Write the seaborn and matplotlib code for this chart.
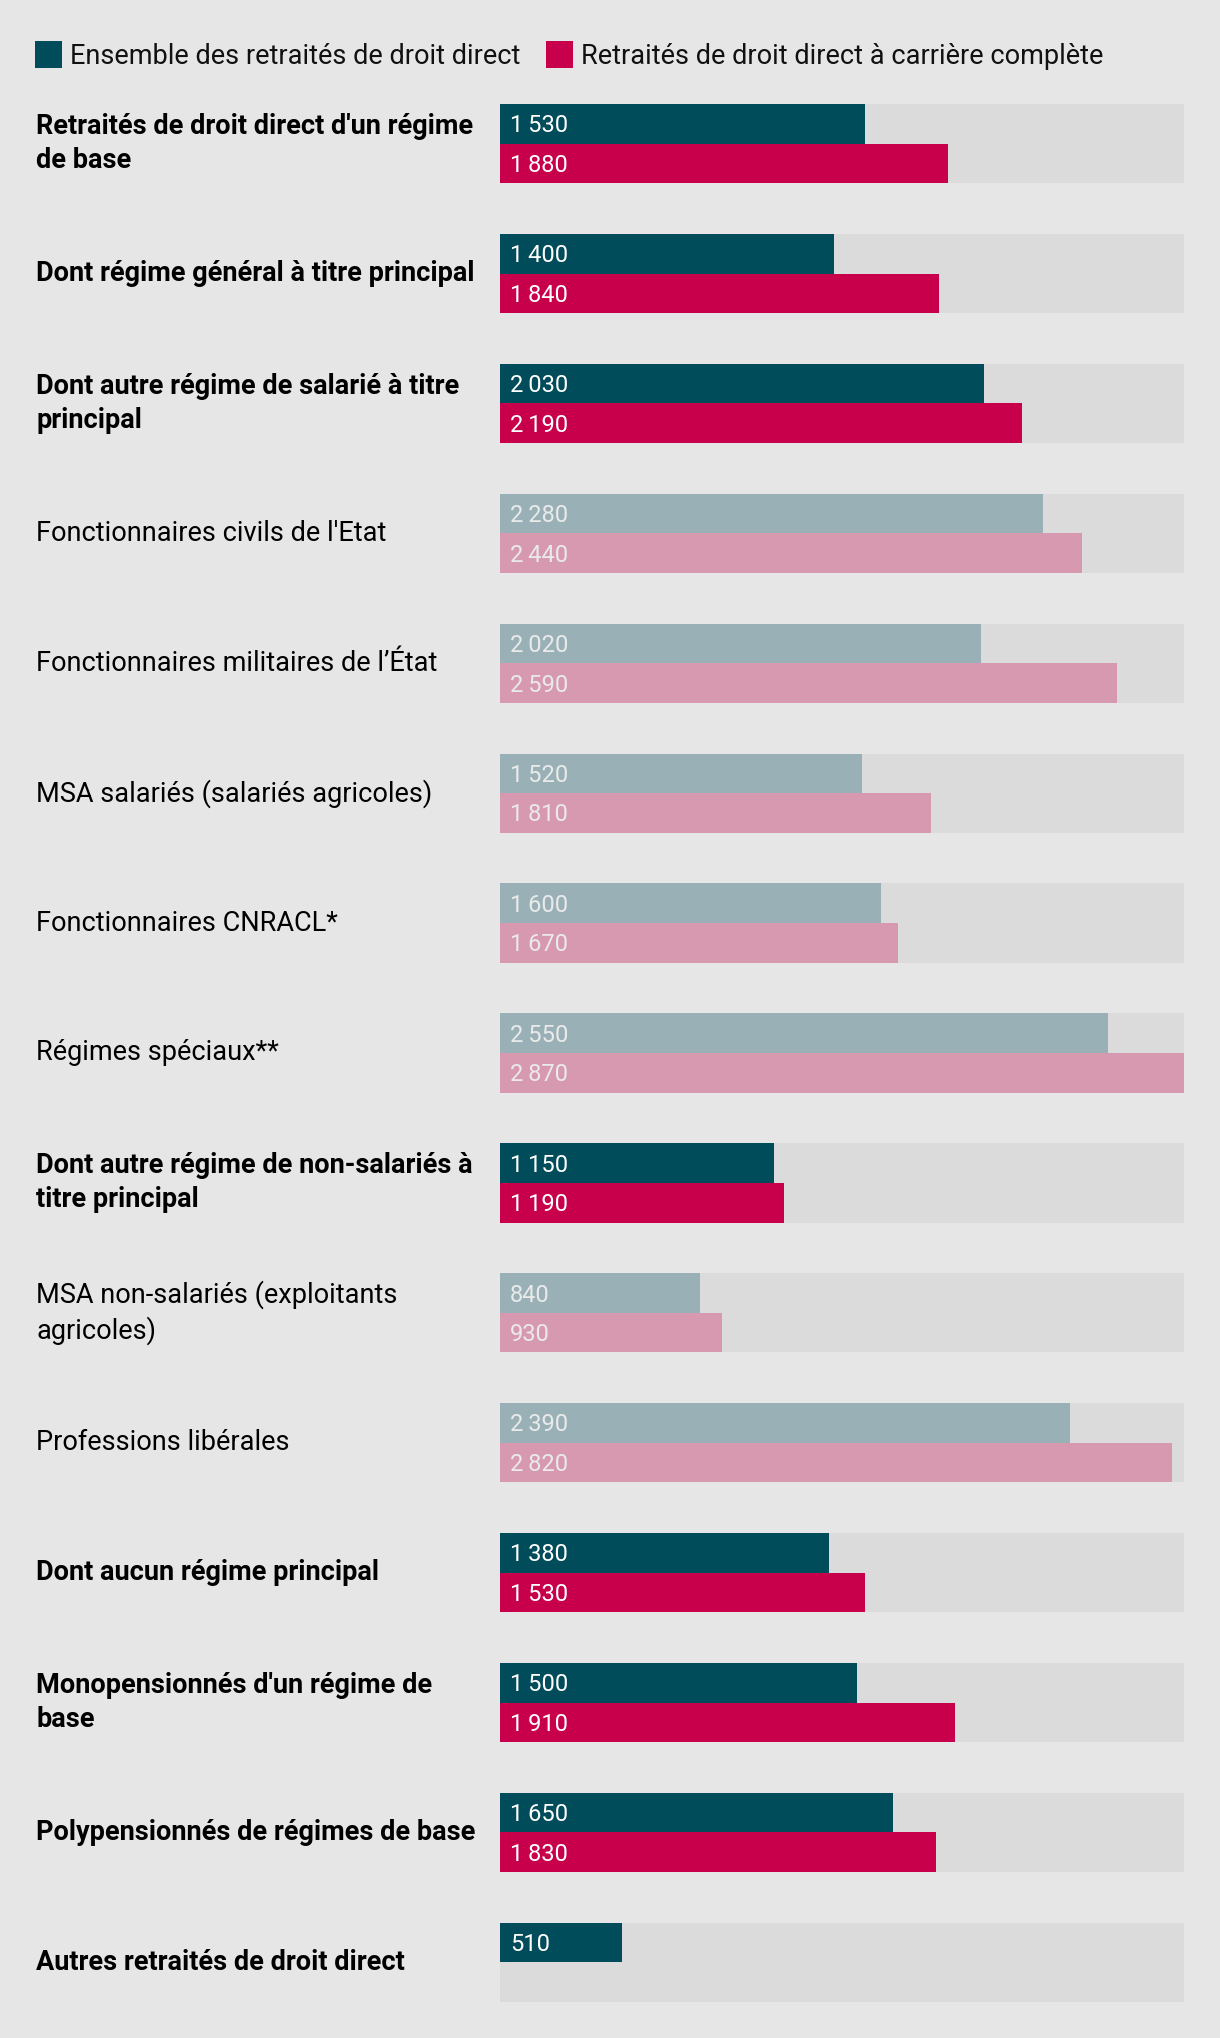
import numpy as np
import pandas as pd
import matplotlib
matplotlib.use("Agg")
import matplotlib.pyplot as plt
import matplotlib.transforms as mtransforms
from matplotlib.patches import Rectangle
import seaborn as sns

categories = [
    "Retraités de droit direct d'un régime\nde base",
    "Dont régime général à titre principal",
    "Dont autre régime de salarié à titre\nprincipal",
    "Fonctionnaires civils de l'Etat",
    "Fonctionnaires militaires de l’État",
    "MSA salariés (salariés agricoles)",
    "Fonctionnaires CNRACL*",
    "Régimes spéciaux**",
    "Dont autre régime de non-salariés à\ntitre principal",
    "MSA non-salariés (exploitants\nagricoles)",
    "Professions libérales",
    "Dont aucun régime principal",
    "Monopensionnés d'un régime de\nbase",
    "Polypensionnés de régimes de base",
    "Autres retraités de droit direct",
]
ensemble = [1530, 1400, 2030, 2280, 2020, 1520, 1600, 2550, 1150, 840, 2390, 1380, 1500, 1650, 510]
complete = [1880, 1840, 2190, 2440, 2590, 1810, 1670, 2870, 1190, 930, 2820, 1530, 1910, 1830, np.nan]
bold_rows = [0, 1, 2, 8, 11, 12, 13, 14]
series_names = ["Ensemble des retraités de droit direct", "Retraités de droit direct à carrière complète"]

BG = "#e6e6e6"
TRACK = "#dbdbdb"
strong = ["#004c5a", "#c8004b"]
dim = ["#99b1b6", "#d799b0"]

sns.set_theme(style="white")
plt.rcParams["font.family"] = ["Roboto", "DejaVu Sans"]

n = len(categories)
df = pd.DataFrame({
    "cat": categories * 2,
    "serie": [series_names[0]] * n + [series_names[1]] * n,
    "val": ensemble + complete,
}).dropna()
track_df = pd.DataFrame({"cat": categories, "val": [np.nanmax(complete + ensemble)] * n})

W, H = 1220, 2038
fig = plt.figure(figsize=(W / 100, H / 100), dpi=100, facecolor=BG)
ax = fig.add_axes([500 / W, 1 - 2002 / H, 684 / W, 1898 / H])
ax.set_facecolor(BG)

sns.barplot(data=track_df, y="cat", x="val", order=categories, color=TRACK,
            width=0.61, orient="h", ax=ax, saturation=1, errorbar=None)
sns.barplot(data=df, y="cat", x="val", hue="serie", order=categories,
            hue_order=series_names, palette=strong, width=0.61, dodge=True,
            orient="h", ax=ax, saturation=1, errorbar=None, legend=False)

ax.set_xlim(0, np.nanmax(complete + ensemble))
ax.set_ylim(n - 1 + 0.305, -0.305)
for s in ax.spines.values():
    s.set_visible(False)
ax.set_xlabel("")
ax.set_ylabel("")
ax.set_xticks([])
ax.set_yticks([])

def fmt(v):
    return f"{int(v):,}".replace(",", "\u2009")

offset = mtransforms.ScaledTranslation(10 / 100, -2 / 100, fig.dpi_scale_trans)
for k, cont in enumerate(ax.containers[1:3]):
    for bar in cont:
        w = bar.get_width()
        if not np.isfinite(w) or w == 0:
            continue
        yc = bar.get_y() + bar.get_height() / 2
        idx = int(round(yc))
        is_dim = idx not in bold_rows
        bar.set_facecolor(dim[k] if is_dim else strong[k])
        bar.set_edgecolor("none")
        ax.text(0, yc, fmt(w), transform=ax.transData + offset,
                ha="left", va="center", fontsize=17,
                color="#eaeaea" if is_dim else "white")
for bar in ax.containers[0]:
    bar.set_edgecolor("none")

lab_tr = mtransforms.blended_transform_factory(fig.transFigure, ax.transData)
for i, c in enumerate(categories):
    ax.text(36 / W, i, c, transform=lab_tr, ha="left", va="center",
            fontsize=19.5, fontweight="bold" if i in bold_rows else "normal",
            color="black", linespacing=1.33)

# legend
leg_y = 56
sq = 27
xs = [35, 546]
for k in range(2):
    fig.patches.append(Rectangle((xs[k] / W, 1 - (54 + sq / 2) / H), sq / W, sq / H,
                                 transform=fig.transFigure, facecolor=strong[k],
                                 edgecolor="none"))
    fig.text((xs[k] + sq + 8) / W, 1 - leg_y / H, series_names[k], ha="left",
             va="center", fontsize=19.5, color="#111111")

fig.savefig("out.png", dpi=100, facecolor=BG)
